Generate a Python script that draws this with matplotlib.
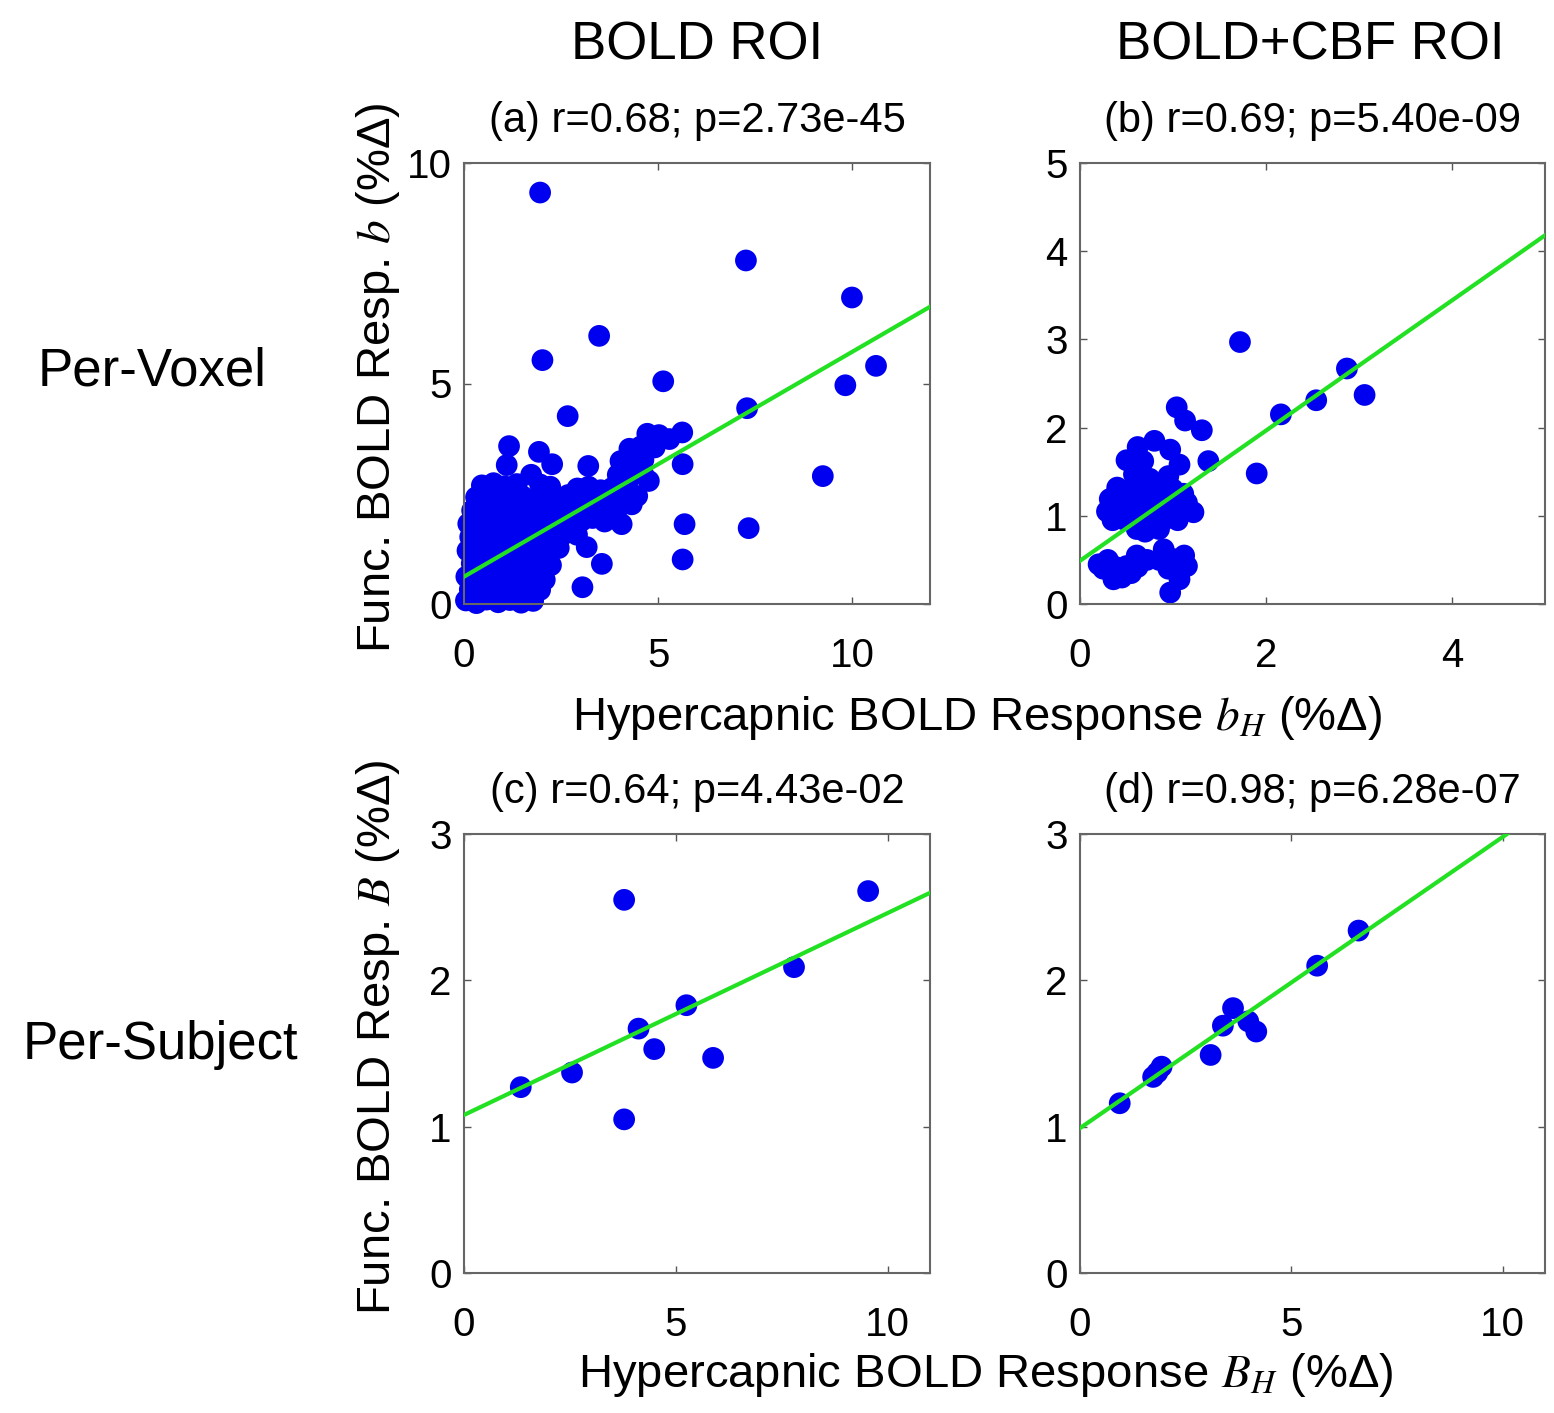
import numpy as np
import matplotlib
matplotlib.use("Agg")
import matplotlib.pyplot as plt

plt.rcParams['font.family'] = ['Liberation Sans', 'DejaVu Sans']
plt.rcParams['mathtext.fontset'] = 'stix'

# ------------------------------------------------------------
# DATA
# ------------------------------------------------------------
# (a) per-voxel, BOLD ROI: hypercapnic b_H vs functional b
bold_voxel_pts = [
    # dense cluster near the origin
    (0.05, 0.08), (0.32, 0.02), (0.58, 0.10), (0.88, 0.04), (1.18, 0.09), (1.47, 0.03), (1.78, 0.07),
    (0.15, 0.33), (0.44, 0.28), (0.76, 0.35), (1.04, 0.27), (1.36, 0.34), (1.66, 0.29), (1.96, 0.32),
    (0.06, 0.62), (0.36, 0.58), (0.64, 0.66), (0.96, 0.57), (1.24, 0.63), (1.56, 0.59), (1.86, 0.64),
    (2.08, 0.55),
    (0.20, 0.92), (0.51, 0.87), (0.79, 0.95), (1.12, 0.88), (1.41, 0.93), (1.69, 0.86), (2.01, 0.94),
    (2.24, 0.88),
    (0.09, 1.21), (0.41, 1.17), (0.72, 1.25), (1.01, 1.18), (1.29, 1.23), (1.62, 1.16), (1.91, 1.24),
    (2.19, 1.19), (2.44, 1.27),
    (0.16, 1.52), (0.46, 1.47), (0.74, 1.55), (1.06, 1.49), (1.34, 1.54), (1.66, 1.46), (1.94, 1.53),
    (2.26, 1.48), (2.53, 1.56),
    (0.11, 1.82), (0.39, 1.77), (0.71, 1.84), (0.99, 1.79), (1.31, 1.85), (1.59, 1.76), (1.92, 1.83),
    (2.21, 1.78), (2.49, 1.86), (2.79, 1.81),
    (0.21, 2.12), (0.52, 2.07), (0.79, 2.15), (1.11, 2.09), (1.39, 2.14), (1.72, 2.06), (1.99, 2.13),
    (2.31, 2.08), (2.62, 2.16),
    (0.31, 2.42), (0.61, 2.37), (0.92, 2.45), (1.19, 2.39), (1.51, 2.44), (1.82, 2.36), (2.12, 2.43),
    (2.41, 2.38), (2.68, 2.47),
    (0.46, 2.69), (0.76, 2.74), (1.04, 2.67), (1.36, 2.72), (1.96, 2.71), (2.22, 2.66), (2.92, 2.62),
    # band along the fit line
    (4.72, 3.86), (5.02, 3.83), (5.29, 3.74), (5.62, 3.89),
    (4.26, 3.52), (4.55, 3.57), (4.91, 3.55),
    (4.03, 3.24), (4.31, 3.19), (4.62, 3.27),
    (3.96, 2.93), (4.29, 2.88), (4.61, 2.95),
    (2.94, 2.61), (3.21, 2.66), (3.52, 2.58), (3.81, 2.63), (4.12, 2.57), (4.46, 2.45), (4.76, 2.79),
    (2.83, 2.24), (3.12, 2.29), (3.41, 2.21), (3.69, 2.27), (3.98, 2.19), (4.32, 2.26),
    (2.71, 1.92), (3.02, 1.88), (3.31, 1.95), (3.62, 1.87), (3.91, 1.93),
    (2.62, 1.61), (2.91, 1.57), (4.06, 1.81),
    # scattered points
    (1.96, 9.33), (7.26, 7.79), (9.99, 6.95), (10.61, 5.40), (9.82, 4.96), (3.48, 6.08),
    (2.02, 5.53), (5.13, 5.05), (7.29, 4.44), (2.67, 4.26), (9.24, 2.90), (5.63, 3.17),
    (5.68, 1.81), (7.33, 1.72), (5.63, 1.01), (3.05, 0.38), (3.55, 0.91), (3.16, 1.29),
    (1.16, 3.58), (1.93, 3.45), (2.27, 3.17), (3.20, 3.13), (1.73, 2.93), (1.10, 3.15),
]

# (b) per-voxel, BOLD+CBF ROI
cbf_voxel_pts = [
    (1.72, 2.97), (2.87, 2.67), (3.06, 2.37), (2.54, 2.31), (2.16, 2.15), (1.90, 1.48),
    (1.38, 1.62), (1.04, 2.23), (1.13, 2.08), (1.31, 1.97), (0.97, 0.13),
    (0.50, 1.63), (0.62, 1.78), (0.80, 1.85), (0.97, 1.75), (1.07, 1.58), (0.95, 1.45),
    (0.75, 1.42), (0.58, 1.47), (0.68, 1.62),
    (0.32, 1.19), (0.29, 1.05), (0.40, 1.32), (0.47, 1.28), (0.55, 1.20), (0.61, 1.34),
    (0.45, 1.05), (0.60, 1.05), (0.75, 1.10), (0.86, 1.12), (0.97, 1.04), (1.11, 1.25),
    (1.15, 1.15), (1.22, 1.04), (1.05, 0.95), (0.90, 0.95), (0.75, 0.96), (0.61, 0.85),
    (0.47, 0.96), (0.70, 0.82), (0.85, 0.85), (1.00, 1.30), (0.35, 0.95),
    (0.40, 1.15), (0.52, 1.12), (0.68, 1.22), (0.82, 1.25), (0.93, 1.20), (1.08, 1.12),
    (0.55, 0.95), (0.78, 1.30), (0.88, 1.35),
    (0.25, 0.40), (0.36, 0.28), (0.50, 0.43), (0.61, 0.55), (0.30, 0.50), (0.45, 0.30),
    (0.55, 0.35), (0.90, 0.62), (1.00, 0.51), (1.15, 0.43), (1.07, 0.28), (0.85, 0.50),
    (0.72, 0.50), (0.38, 0.42), (0.62, 0.42), (0.95, 0.40), (1.12, 0.55), (0.20, 0.45),
]

# (c) per-subject, BOLD ROI
bold_subj_x = [1.34, 2.55, 3.78, 3.78, 4.12, 4.49, 5.25, 5.88, 7.79, 9.54]
bold_subj_y = [1.27, 1.37, 2.55, 1.05, 1.67, 1.53, 1.83, 1.47, 2.09, 2.61]

# (d) per-subject, BOLD+CBF ROI
cbf_subj_x = [0.94, 1.73, 1.83, 1.93, 3.09, 3.38, 3.62, 3.98, 4.17, 5.61, 6.59]
cbf_subj_y = [1.16, 1.34, 1.37, 1.41, 1.49, 1.69, 1.81, 1.72, 1.65, 2.10, 2.34]

# linear fits (intercept, slope) as drawn in the reference
fit_a = (0.62, 0.51)
fit_b = (0.49, 0.738)
fit_c = (1.08, 0.138)
fit_d = (0.99, 0.199)

titles = ["(a) r=0.68; p=2.73e-45", "(b) r=0.69; p=5.40e-09",
          "(c) r=0.64; p=4.43e-02", "(d) r=0.98; p=6.28e-07"]

# ------------------------------------------------------------
# FIGURE
# ------------------------------------------------------------
W, H = 1554, 1413
fig = plt.figure(figsize=(W / 100, H / 100), dpi=100)


def px_axes(left, top, right, bottom):
    return fig.add_axes([left / W, 1 - bottom / H, (right - left) / W, (bottom - top) / H])


def style(ax, xlim, ylim, xticks, yticks):
    ax.set_xlim(*xlim)
    ax.set_ylim(*ylim)
    ax.set_xticks(xticks)
    ax.set_yticks(yticks)
    ax.tick_params(direction='in', length=5, width=1, top=True, right=True,
                   labelsize=29, colors='#555555', labelcolor='black')
    ax.tick_params(axis='x', pad=24)
    ax.tick_params(axis='y', pad=9)
    for s in ax.spines.values():
        s.set_color('#666666')
        s.set_linewidth(1.5)


def panel(ax, x, y, fit, xmax):
    ax.scatter(x, y, s=245, c='#0000f0', edgecolors='none', clip_on=False, zorder=2)
    xx = np.array([0, xmax])
    ax.plot(xx, fit[0] + fit[1] * xx, color='#22e022', linewidth=3, zorder=3)


ax_a = px_axes(464, 163, 930, 604)
ax_b = px_axes(1080, 163, 1545, 604)
ax_c = px_axes(464, 834, 930, 1273)
ax_d = px_axes(1080, 834, 1545, 1273)

ax_pts = np.array(bold_voxel_pts)
panel(ax_a, ax_pts[:, 0], ax_pts[:, 1], fit_a, 12)
style(ax_a, (0, 12), (0, 10), [0, 5, 10], [0, 5, 10])

b_pts = np.array(cbf_voxel_pts)
panel(ax_b, b_pts[:, 0], b_pts[:, 1], fit_b, 5)
style(ax_b, (0, 5), (0, 5), [0, 2, 4], [0, 1, 2, 3, 4, 5])

panel(ax_c, bold_subj_x, bold_subj_y, fit_c, 11)
style(ax_c, (0, 11), (0, 3), [0, 5, 10], [0, 1, 2, 3])

panel(ax_d, cbf_subj_x, cbf_subj_y, fit_d, 11)
style(ax_d, (0, 11), (0, 3), [0, 5, 10], [0, 1, 2, 3])

for ax, t in zip([ax_a, ax_b, ax_c, ax_d], titles):
    ax.set_title(t, fontsize=30, pad=22)


def ftext(x, y, s, **kw):
    fig.text(x / W, 1 - y / H, s, ha='center', va='center', **kw)


ftext(697, 45, "BOLD ROI", fontsize=38)
ftext(1310, 45, "BOLD+CBF ROI", fontsize=38)
ftext(152, 372, "Per-Voxel", fontsize=38)
ftext(160, 1045, "Per-Subject", fontsize=38)
ftext(378, 378, "Func. BOLD Resp. $b$ (%Δ)", fontsize=34, rotation=90)
ftext(378, 1037, "Func. BOLD Resp. $B$ (%Δ)", fontsize=34, rotation=90)
ftext(977, 718, "Hypercapnic BOLD Response $b_H$ (%Δ)", fontsize=34)
ftext(986, 1375, "Hypercapnic BOLD Response $B_H$ (%Δ)", fontsize=34)

fig.savefig("out.png", dpi=100)
